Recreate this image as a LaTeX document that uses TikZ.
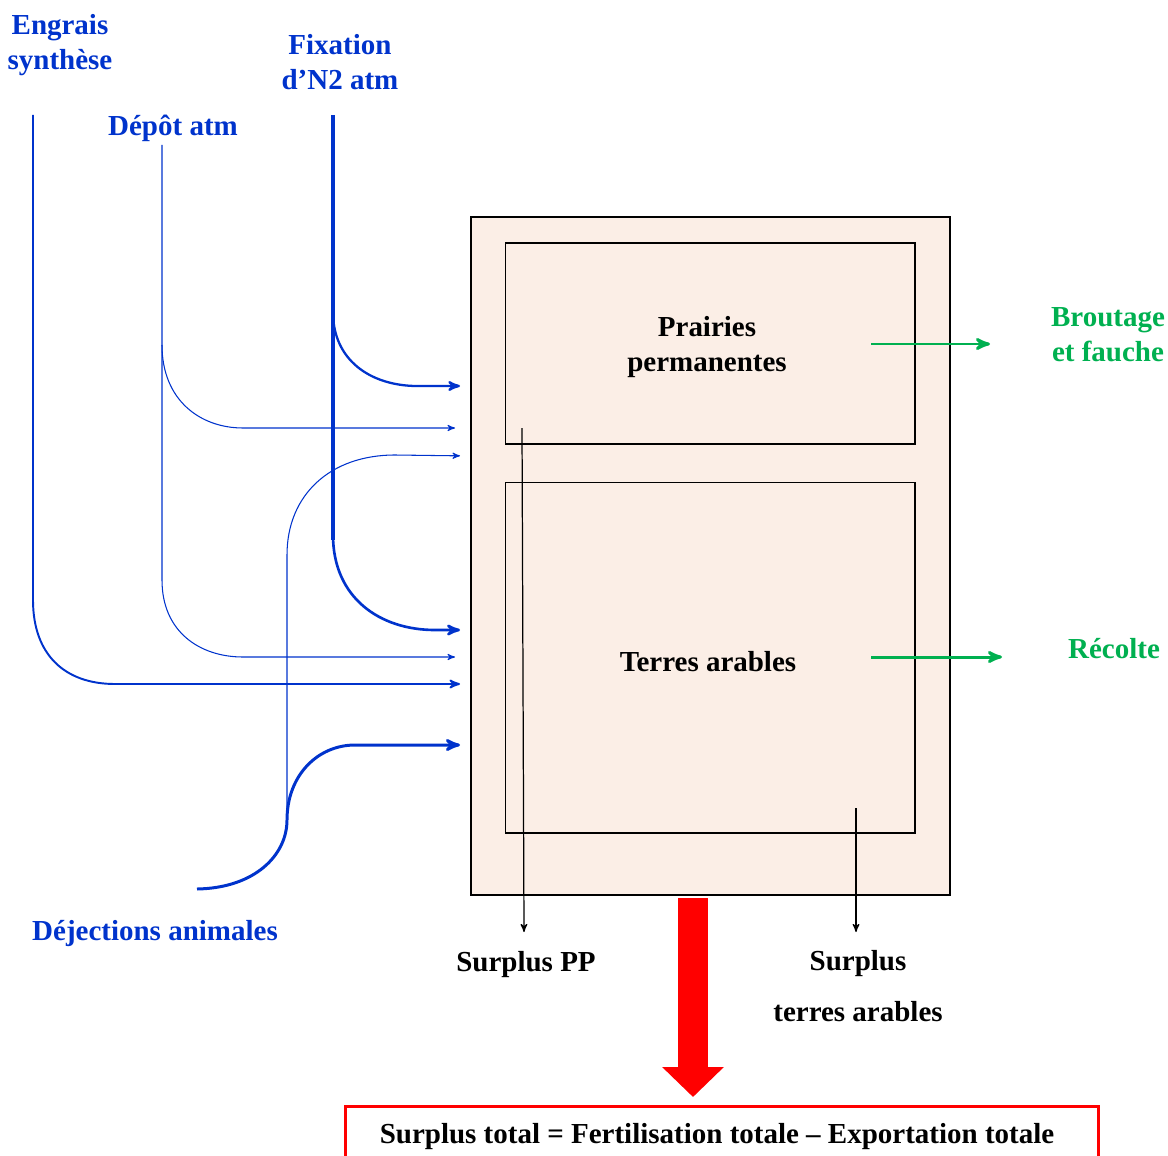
\documentclass[tikz,border=0pt]{standalone}
\usepackage{fontspec}
\setmainfont{Liberation Serif}
\usetikzlibrary{arrows,arrows.meta,shapes,positioning}

\definecolor{nblue}{RGB}{0,51,204}
\definecolor{ngreen}{RGB}{0,176,80}
\definecolor{peach}{RGB}{251,238,230}
\newcommand{\bigbf}{\fontsize{16.5}{19.9}\selectfont\bfseries}

\begin{document}
\begin{tikzpicture}[x=0.02cm,y=-0.02cm,>=stealth',
    farm node/.style={rectangle,draw,fill=peach,line width=0.8pt,minimum width=9.58cm,minimum height=13.56cm},
    box node/.style={rectangle,draw,line width=0.6pt,minimum width=8.2cm,align=center,font=\bigbf},
    in label/.style={align=center,text=nblue,font=\bigbf,inner sep=0pt},
    out label/.style={align=center,text=ngreen,font=\bigbf,inner sep=0pt},
    sum label/.style={align=center,font=\bigbf,inner sep=0pt},
    flow/.style={->,draw=nblue,shorten >=0.22cm},
    harvest/.style={->,draw=ngreen,line width=1.7pt},
    leak/.style={->,line width=0.7pt}]

    \useasboundingbox (0,0) rectangle (1168,1155);

    % exploitation
    \node[farm node] (farm) at (710.5,556) {};
    \node[box node,minimum height=4.02cm] (pp) at (710,343.5) {};
    \node[sum label] (pptext) at (707,347) {Prairies\\permanentes};
    \node[box node,minimum height=7.02cm] (ta) at (710,657.5) {};
    \node[sum label] (tatext) at (708,662) {Terres arables};

    % entrees
    \node[in label] (engrais) at (60,45) {Engrais\\synthèse};
    \node[in label] (depot) at (173,128) {Dépôt atm};
    \node[in label] (fixation) at (340,62) {Fixation\\d’N2 atm};
    \node[in label] (dejections) at (155,934) {Déjections animales};

    % sorties
    \node[out label] (broutage) at (1108,335) {Broutage\\et fauche};
    \node[out label] (recolte) at (1114,649) {Récolte};
    \node[sum label] (surpluspp) at (526,965) {Surplus PP};
    \node[sum label] (surplusta) at (858,986) {Surplus\\[0.32cm]terres arables};
    \node[sum label] (total) at (717,1137) {Surplus total = Fertilisation totale – Exportation totale};

    \coordinate (e0) at (33,115);
    \coordinate (d0) at (162,145);
    \coordinate (f0) at (333,115);
    \coordinate (j0) at (197,889);
    \coordinate (in1) at (471,386);
    \coordinate (in2) at (466,428);
    \coordinate (in3) at (471,630);
    \coordinate (in4) at (466,657);
    \coordinate (in5) at (471,684);
    \coordinate (in6) at (471,745);
    \coordinate (in7) at (471,456);

    % flux d'azote
    \draw[flow,line width=1.1pt] (e0) -- (33,600) .. controls (33,655) and (65,684) .. (115,684) -- (in5);
    \draw[flow,line width=0.6pt] (d0) -- (162,580) .. controls (162,632) and (200,657) .. (243,657) -- (in4);
    \draw[flow,line width=0.6pt] (162,345) .. controls (162,400) and (200,428) .. (243,428) -- (in2);
    \draw[nblue,line width=1.9pt] (f0) -- (333,540);
    \draw[flow,line width=1.5pt] (333,535) .. controls (333,598) and (380,630) .. (435,630) -- (in3);
    \draw[flow,line width=1.3pt] (333,312) .. controls (333,360) and (370,385) .. (415,386) -- (in1);
    \draw[flow,line width=1.7pt] (j0) .. controls (255,888) and (287,855) .. (287,820)
        .. controls (287,775) and (318,745) .. (355,745) -- (in6);
    \draw[flow,line width=0.6pt] (287,820) -- (287,555) .. controls (287,495) and (330,455) .. (395,455) -- (in7);

    % exportations
    \coordinate (g1) at (871,344);
    \coordinate (g2) at (990,344);
    \coordinate (g3) at (871,657);
    \coordinate (g4) at (1002,657);
    \draw[harvest] (g1) -- (g2);
    \draw[harvest] (g3) -- (g4);

    % surplus
    \coordinate (s1) at (522,428);
    \coordinate (s2) at (524,932);
    \coordinate (s3) at (856,808);
    \coordinate (s4) at (856,932);
    \draw[leak] (s1) -- (s2);
    \draw[leak] (s3) -- (s4);

    \coordinate (r0) at (693,898);
    \coordinate (r1) at (693,1097);
    \draw[red,line width=0.6cm,-{Triangle[length=0.6cm,width=1.2cm]}] (r0) -- (r1);
    \draw[red,line width=1.7pt] (345,1165) -- (345,1106) -- (1098,1106) -- (1098,1165);
\end{tikzpicture}
\end{document}
